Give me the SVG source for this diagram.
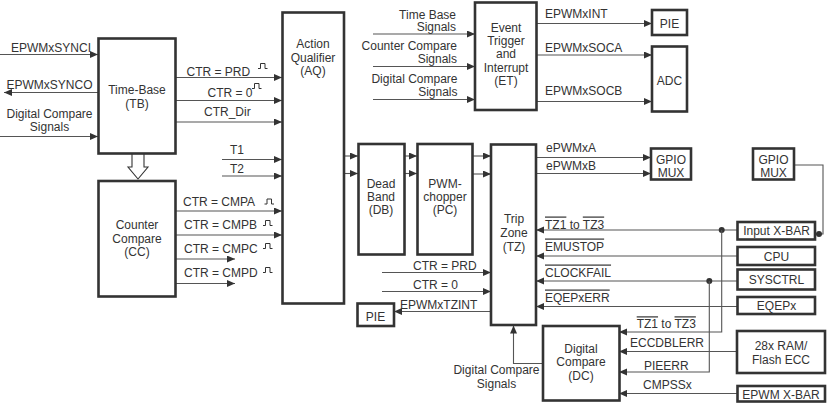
<svg xmlns="http://www.w3.org/2000/svg" xmlns:xlink="http://www.w3.org/1999/xlink" width="827" height="406" viewBox="0 0 827 406">
<style>
.box{fill:#fff;stroke:#333;stroke-width:2.6}
.ln{fill:none;stroke:#555;stroke-width:1.1}
.ar{marker-end:url(#ah)}
.t{font-family:"Liberation Sans",Arial,sans-serif;font-size:12px;fill:#333}
.m{text-anchor:middle}
.e{text-anchor:end}
.ov{text-decoration:overline}
.pulse{fill:none;stroke:#333;stroke-width:1}
</style>
<defs>
<marker id="ah" markerUnits="userSpaceOnUse" markerWidth="9" markerHeight="8" refX="8" refY="3.5" orient="auto">
<path d="M0,0 L8,3.5 L0,7 z" fill="#333"/>
</marker>
<path id="pulse" class="pulse" d="M0,0 H2.5 V-5 H7 V0 H9.5"/>
</defs>

<g id="connectors">
<path class="ln ar" d="M0,54.5 H98"/>
<path class="ln ar" d="M98,92.5 H4"/>
<path class="ln ar" d="M0,136.5 H98"/>
<path class="ln ar" d="M176,77.5 H282"/>
<path class="ln ar" d="M176,100.5 H282"/>
<path class="ln ar" d="M176,122 H282"/>
<path class="ln ar" d="M222,159.5 H282"/>
<path class="ln ar" d="M222,176 H282"/>
<path class="ln ar" d="M176,211 H282"/>
<path class="ln ar" d="M176,235 H282"/>
<path class="ln ar" d="M176,259 H235"/>
<path class="ln ar" d="M176,283.5 H235"/>
<polygon points="132,153 144,153 144,167 148,167 138,179 128,167 132,167" fill="#fff" stroke="#333" stroke-width="1.1"/>
<path class="ln ar" d="M373,34 H475"/>
<path class="ln ar" d="M373,66.5 H475"/>
<path class="ln ar" d="M373,99.5 H475"/>
<path class="ln ar" d="M537,23.5 H652"/>
<path class="ln ar" d="M537,55 H652"/>
<path class="ln ar" d="M537,101.5 H652"/>
<path class="ln ar" d="M344,156 H358"/>
<path class="ln ar" d="M344,173.5 H358"/>
<path class="ln ar" d="M404,156 H417"/>
<path class="ln ar" d="M404,173.5 H417"/>
<path class="ln ar" d="M472,156 H491"/>
<path class="ln ar" d="M472,174 H491"/>
<path class="ln ar" d="M536,157.5 H651"/>
<path class="ln ar" d="M536,173.5 H651"/>
<path class="ln" d="M794,165 H823 V234 H816"/>
<circle cx="819" cy="234" r="3" fill="#333"/>
<path class="ln ar" d="M737,230 H536"/>
<circle cx="721.7" cy="230" r="3" fill="#333"/>
<path class="ln ar" d="M721.7,230 V332 H619"/>
<path class="ln ar" d="M737,256 H536"/>
<path class="ln ar" d="M737,281 H536"/>
<circle cx="709.3" cy="281" r="3" fill="#333"/>
<path class="ln ar" d="M709.3,281 V372 H619"/>
<path class="ln ar" d="M737,306.5 H536"/>
<path class="ln ar" d="M737,351.5 H619"/>
<path class="ln ar" d="M737,393.5 H619"/>
<path class="ln ar" d="M382,272.5 H491"/>
<path class="ln ar" d="M382,291.5 H491"/>
<path class="ln ar" d="M491,311.5 H394"/>
<path class="ln ar" d="M543,363.5 H513.5 V325.5"/>
</g>

<g id="labels">
<text class="t e" x="91" y="51.5">EPWMxSYNCI</text>
<text class="t e" x="92.5" y="88.5">EPWMxSYNCO</text>
<text class="t m" x="49.5" y="117.5">Digital Compare</text>
<text class="t m" x="49.5" y="131">Signals</text>
<text class="t" x="186.5" y="75.5">CTR = PRD</text>
<use xlink:href="#pulse" x="258" y="68.5"/>
<text class="t" x="207.5" y="96.5">CTR = 0</text>
<use xlink:href="#pulse" x="252" y="88.5"/>
<text class="t" x="204" y="116">CTR_Dir</text>
<text class="t" x="230" y="154">T1</text>
<text class="t" x="230" y="173">T2</text>
<text class="t" x="183" y="206">CTR = CMPA</text>
<use xlink:href="#pulse" x="264.5" y="204"/>
<text class="t" x="184" y="228.5">CTR = CMPB</text>
<use xlink:href="#pulse" x="263" y="225.5"/>
<text class="t" x="184" y="252.5">CTR = CMPC</text>
<use xlink:href="#pulse" x="263" y="248.5"/>
<text class="t" x="184" y="276.5">CTR = CMPD</text>
<use xlink:href="#pulse" x="263" y="272.5"/>
<text class="t" x="286.5" y="162">ePWMxA</text>
<text class="t" x="286.5" y="179.5">ePWMxB</text>
<text class="t e" x="456" y="18.5">Time Base</text>
<text class="t e" x="456" y="31">Signals</text>
<text class="t e" x="457" y="49.5">Counter Compare</text>
<text class="t e" x="457" y="63">Signals</text>
<text class="t e" x="457.5" y="82.5">Digital Compare</text>
<text class="t e" x="457.5" y="95.5">Signals</text>
<text class="t" x="545" y="17.5">EPWMxINT</text>
<text class="t" x="545" y="51.5">EPWMxSOCA</text>
<text class="t" x="545" y="95">EPWMxSOCB</text>
<text class="t" x="546" y="151.5">ePWMxA</text>
<text class="t" x="546" y="169.5">ePWMxB</text>
<text class="t" x="545" y="228.5"><tspan class="ov">TZ1</tspan> to <tspan class="ov">TZ3</tspan></text>
<text class="t" x="545" y="250.5"><tspan class="ov">EMUSTOP</tspan></text>
<text class="t" x="545" y="276.5"><tspan class="ov">CLOCKFAIL</tspan></text>
<text class="t" x="545" y="301.5"><tspan class="ov">EQEPxERR</tspan></text>
<text class="t" x="636.7" y="328.3"><tspan class="ov">TZ1</tspan> to <tspan class="ov">TZ3</tspan></text>
<text class="t" x="630" y="347">ECCDBLERR</text>
<text class="t" x="644" y="370">PIEERR</text>
<text class="t" x="643" y="388.5">CMPSSx</text>
<text class="t" x="413" y="269.5">CTR = PRD</text>
<text class="t" x="413" y="288.5">CTR = 0</text>
<text class="t" x="400" y="308.5">EPWMxTZINT</text>
<text class="t e" x="539.5" y="374">Digital Compare</text>
<text class="t m" x="496.5" y="387.5">Signals</text>
</g>

<g id="tb"><rect class="box" x="98.5" y="38.5" width="77" height="115"/>
<text class="t m" x="137" y="94">Time-Base</text><text class="t m" x="137" y="107.5">(TB)</text></g>
<g id="cc"><rect class="box" x="98.5" y="181" width="77" height="115.5"/>
<text class="t m" x="137" y="229">Counter</text><text class="t m" x="137" y="242.5">Compare</text><text class="t m" x="137" y="255.5">(CC)</text></g>
<g id="aq"><rect class="box" x="282.5" y="12.5" width="61.5" height="291"/>
<text class="t m" x="313" y="48">Action</text><text class="t m" x="313" y="61.5">Qualifier</text><text class="t m" x="313" y="75">(AQ)</text></g>
<g id="et"><rect class="box" x="475" y="2.5" width="61.5" height="107.5"/>
<text class="t m" x="506" y="31.5">Event</text><text class="t m" x="506" y="44.5">Trigger</text><text class="t m" x="506" y="58">and</text><text class="t m" x="506" y="71.5">Interrupt</text><text class="t m" x="506" y="85">(ET)</text></g>
<g id="pie1"><rect class="box" x="652" y="10" width="35" height="25"/><text class="t m" x="669.5" y="27.5">PIE</text></g>
<g id="adc"><rect class="box" x="652" y="46.5" width="35" height="65"/><text class="t m" x="669.5" y="84.5">ADC</text></g>
<g id="db"><rect class="box" x="358.5" y="144" width="46" height="110.5"/>
<text class="t m" x="381" y="187.5">Dead</text><text class="t m" x="381" y="201">Band</text><text class="t m" x="381" y="214">(DB)</text></g>
<g id="pc"><rect class="box" x="417.5" y="144" width="55" height="110.5"/>
<text class="t m" x="445" y="187.5">PWM-</text><text class="t m" x="445" y="201">chopper</text><text class="t m" x="445" y="214">(PC)</text></g>
<g id="tz"><rect class="box" x="491" y="144.5" width="45" height="180.5"/>
<text class="t m" x="514" y="223">Trip</text><text class="t m" x="514" y="237">Zone</text><text class="t m" x="514" y="250.5">(TZ)</text></g>
<g id="gpio1"><rect class="box" x="651" y="148.5" width="40" height="31"/>
<text class="t m" x="671" y="163.5">GPIO</text><text class="t m" x="671" y="176.5">MUX</text></g>
<g id="gpio2"><rect class="box" x="753" y="148.5" width="41" height="31"/>
<text class="t m" x="773.5" y="163.5">GPIO</text><text class="t m" x="773.5" y="176.5">MUX</text></g>
<g id="ixbar"><rect class="box" x="737.5" y="222" width="77.5" height="17.5"/><text class="t m" x="776.5" y="235">Input X-BAR</text></g>
<g id="cpu"><rect class="box" x="737.5" y="247" width="77.5" height="18"/><text class="t m" x="776.5" y="260.5">CPU</text></g>
<g id="sysctrl"><rect class="box" x="737.5" y="269.5" width="77.5" height="20"/><text class="t m" x="776.5" y="284">SYSCTRL</text></g>
<g id="eqepx"><rect class="box" x="737.5" y="297" width="77.5" height="17"/><text class="t m" x="776.5" y="309.5">EQEPx</text></g>
<g id="ram"><rect class="box" x="737" y="331" width="88" height="42"/>
<text class="t m" x="781" y="350">28x RAM/</text><text class="t m" x="781" y="363.5">Flash ECC</text></g>
<g id="epwmxbar"><rect class="box" x="737.5" y="386" width="87.5" height="15.5"/><text class="t m" x="781" y="398.5">EPWM X-BAR</text></g>
<g id="pie2"><rect class="box" x="357.5" y="303.5" width="36.5" height="22.5"/><text class="t m" x="375.5" y="321">PIE</text></g>
<g id="dc"><rect class="box" x="543" y="326" width="76.5" height="74.5"/>
<text class="t m" x="581" y="352.5">Digital</text><text class="t m" x="581" y="366">Compare</text><text class="t m" x="581" y="379.5">(DC)</text></g>
</svg>
